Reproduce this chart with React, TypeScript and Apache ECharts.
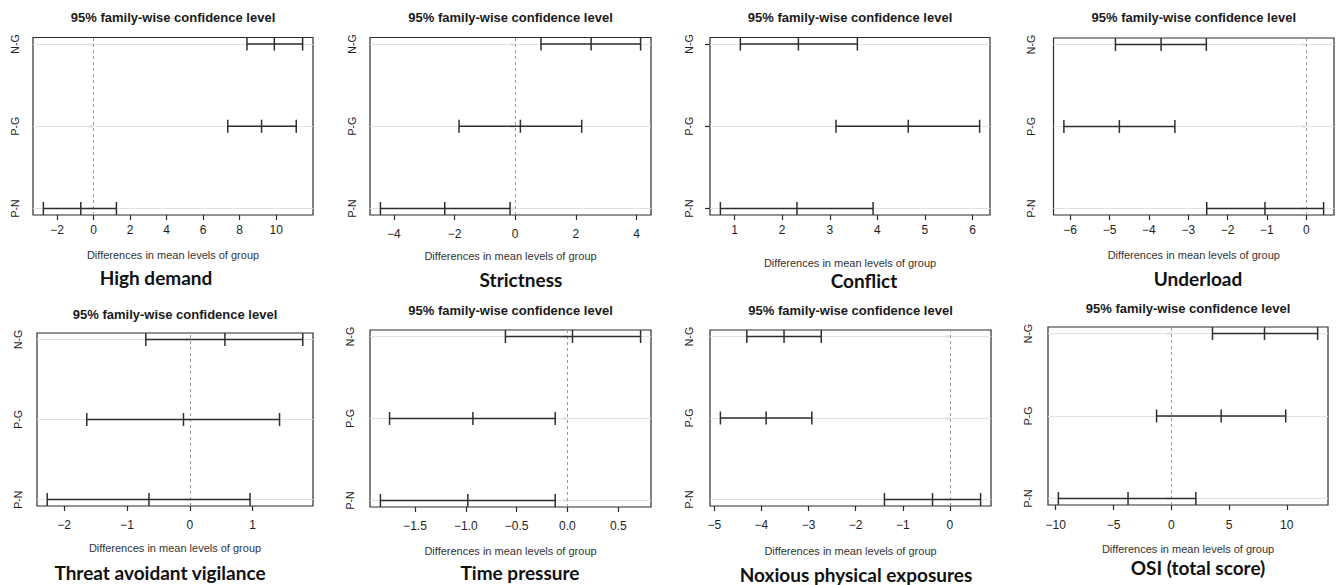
import React, { useEffect, useRef } from "react";
import * as echarts from "echarts";

// Comparisons, top to bottom
const categories = ["N-G", "P-G", "P-N"];

const panelNames = [
  "High demand",
  "Strictness",
  "Conflict",
  "Underload",
  "Threat avoidant vigilance",
  "Time pressure",
  "Noxious physical exposures",
  "OSI (total score)",
];

const panelTitle = "95% family-wise confidence level";
const xAxisTitle = "Differences in mean levels of group";

// [lwr, diff, upr] for N-G, P-G, P-N
const highDemand = [[8.4, 9.9, 11.45], [7.35, 9.2, 11.1], [-2.75, -0.7, 1.25]];
const strictness = [[0.85, 2.5, 4.13], [-1.85, 0.17, 2.19], [-4.44, -2.32, -0.17]];
const conflict = [[1.12, 2.34, 3.58], [3.13, 4.65, 6.15], [0.7, 2.31, 3.91]];
const underload = [[-4.85, -3.69, -2.54], [-6.16, -4.75, -3.34], [-2.53, -1.05, 0.44]];
const threatAvoidant = [[-0.7, 0.56, 1.8], [-1.64, -0.1, 1.43], [-2.27, -0.65, 0.96]];
const timePressure = [[-0.61, 0.05, 0.72], [-1.75, -0.93, -0.12], [-1.84, -0.98, -0.12]];
const noxious = [[-4.31, -3.52, -2.73], [-4.87, -3.9, -2.93], [-1.39, -0.37, 0.65]];
const osi = [[3.57, 8.07, 12.67], [-1.27, 4.32, 9.91], [-9.77, -3.74, 2.13]];

// x tick labels per panel
const highDemandTicks = [-2, 0, 2, 4, 6, 8, 10];
const strictnessTicks = [-4, -2, 0, 2, 4];
const conflictTicks = [1, 2, 3, 4, 5, 6];
const underloadTicks = [-6, -5, -4, -3, -2, -1, 0];
const threatTicks = [-2, -1, 0, 1];
const timeTicks = [-1.5, -1.0, -0.5, 0.0, 0.5];
const noxiousTicks = [-5, -4, -3, -2, -1, 0];
const osiTicks = [-10, -5, 0, 5, 10];

const panelData = [highDemand, strictness, conflict, underload, threatAvoidant, timePressure, noxious, osi];
const panelTicks = [highDemandTicks, strictnessTicks, conflictTicks, underloadTicks, threatTicks, timeTicks, noxiousTicks, osiTicks];

// layout (pixels)
const layouts = [
  { l: 33, r: 313, t: 37.5, b: 215, titleY: 17, lab: 9, ylab: 13, nameGap: 34, subX: 156, subY: 277 },
  { l: 370, r: 651, t: 37.5, b: 215, titleY: 17, lab: 13, ylab: 13, nameGap: 35, subX: 521, subY: 279 },
  { l: 710, r: 990, t: 37.5, b: 215, titleY: 17, lab: 9, ylab: 16, nameGap: 42, subX: 864, subY: 280 },
  { l: 1053.5, r: 1334, t: 38, b: 215, titleY: 17, lab: 9, ylab: 17, nameGap: 34, subX: 1198, subY: 278 },
  { l: 37, r: 313, t: 333, b: 506, titleY: 314, lab: 13, ylab: 14, nameGap: 36.5, subX: 160, subY: 572 },
  { l: 370, r: 651, t: 330, b: 507, titleY: 310, lab: 13, ylab: 15, nameGap: 38, subX: 520, subY: 572 },
  { l: 710, r: 991, t: 330, b: 506, titleY: 310, lab: 13, ylab: 16, nameGap: 39, subX: 856, subY: 574 },
  { l: 1048, r: 1328, t: 327, b: 505, titleY: 308, lab: 14, ylab: 15, nameGap: 38, subX: 1198, subY: 567 },
];

const AX_FONT = "'Liberation Sans', Arial, Helvetica, sans-serif";
const SUB_FONT = "Lato, 'Open Sans', sans-serif";

function fmtTick(v: number, decimals: number) {
  const s = Math.abs(v).toFixed(decimals);
  return (v < -1e-9 ? "\u2212" : "") + s;
}

function buildOption() {
  const grid: any[] = [];
  const xAxis: any[] = [];
  const yAxis: any[] = [];
  const series: any[] = [];
  const graphic: any[] = [];

  panelData.forEach((ci, i) => {
    const L = layouts[i];
    const ticks = panelTicks[i];
    const lows = ci.map((c) => c[0]);
    const highs = ci.map((c) => c[2]);
    const dMin = Math.min(...lows);
    const dMax = Math.max(...highs);
    const pad = (dMax - dMin) * 0.04;
    const xMin = dMin - pad;
    const xMax = dMax + pad;
    const decimals = ticks.some((t) => !Number.isInteger(t)) ? 1 : 0;

    grid.push({
      left: L.l,
      top: L.t,
      width: L.r - L.l,
      height: L.b - L.t,
      show: true,
      borderColor: "#2b2b2b",
      borderWidth: 1.2,
      backgroundColor: "transparent",
      containLabel: false,
    });

    xAxis.push({
      type: "value",
      gridIndex: i,
      min: xMin,
      max: xMax,
      axisLine: { show: false },
      splitLine: { show: false },
      axisTick: { show: true, length: 5, customValues: ticks, lineStyle: { color: "#2b2b2b", width: 1.2 } },
      axisLabel: {
        customValues: ticks,
        margin: L.lab,
        fontSize: 12,
        fontFamily: AX_FONT,
        color: "#1e1e1e",
        formatter: (v: number) => fmtTick(v, decimals),
      },
      name: xAxisTitle,
      nameLocation: "middle",
      nameGap: L.nameGap,
      nameTextStyle: { fontSize: 11, fontFamily: AX_FONT, color: "#333" },
    });

    yAxis.push({
      type: "value",
      gridIndex: i,
      min: 0.92,
      max: 3.08,
      axisLine: { show: false },
      splitLine: { show: false },
      axisTick: { show: true, length: 5, customValues: [1, 2, 3], lineStyle: { color: "#2b2b2b", width: 1.2 } },
      axisLabel: {
        customValues: [1, 2, 3],
        rotate: 90,
        margin: L.ylab,
        fontSize: 10.5,
        fontFamily: AX_FONT,
        color: "#1e1e1e",
        formatter: (v: number) => categories[3 - Math.round(v)],
      },
    });

    const refLines: any[] = [1, 2, 3].map((y) => ({
      yAxis: y,
      lineStyle: { color: "#e2e2e2", width: 1, type: "solid" },
    }));
    if (xMin < 0 && xMax > 0) {
      refLines.push({ xAxis: 0, lineStyle: { color: "#9a9a9a", width: 1, type: [3, 3] } });
    }

    series.push({
      type: "line",
      xAxisIndex: i,
      yAxisIndex: i,
      data: [],
      z: 1,
      silent: true,
      markLine: {
        silent: true,
        z: 1,
        symbol: "none",
        label: { show: false },
        animation: false,
        data: refLines,
      },
    });

    series.push({
      type: "custom",
      xAxisIndex: i,
      yAxisIndex: i,
      z: 10,
      silent: true,
      data: ci.map((c, k) => [c[0], c[1], c[2], 3 - k]),
      encode: { x: [0, 1, 2], y: 3 },
      renderItem: (params: any, api: any) => {
        const y = api.value(3);
        const pL = api.coord([api.value(0), y]);
        const pM = api.coord([api.value(1), y]);
        const pU = api.coord([api.value(2), y]);
        const h = 6.5;
        const st = { stroke: "#2e2e2e", lineWidth: 1.5 };
        const v = (p: number[]) => ({
          type: "line",
          shape: { x1: p[0], y1: p[1] - h, x2: p[0], y2: p[1] + h },
          style: st,
        });
        return {
          type: "group",
          children: [
            { type: "line", shape: { x1: pL[0], y1: pL[1], x2: pU[0], y2: pU[1] }, style: st },
            v(pL),
            v(pM),
            v(pU),
          ],
        };
      },
    });

    graphic.push({
      type: "text",
      x: (L.l + L.r) / 2,
      y: L.titleY,
      style: {
        text: panelTitle,
        align: "center",
        verticalAlign: "middle",
        fontSize: 13,
        fontWeight: "bold",
        fontFamily: AX_FONT,
        fill: "#1a1a1a",
      },
    });

    graphic.push({
      type: "text",
      x: L.subX,
      y: L.subY,
      style: {
        text: panelNames[i],
        align: "center",
        verticalAlign: "middle",
        fontSize: 19,
        fontWeight: "bold",
        fontFamily: SUB_FONT,
        fill: "#111",
      },
    });
  });

  return {
    animation: false,
    backgroundColor: "#ffffff",
    grid,
    xAxis,
    yAxis,
    series,
    graphic,
  };
}

export default function App() {
  const ref = useRef<HTMLDivElement>(null);
  useEffect(() => {
    if (!ref.current) return;
    const chart = echarts.init(ref.current, undefined, { renderer: "svg" });
    chart.setOption(buildOption() as any);
    return () => chart.dispose();
  }, []);
  return (
    <div
      ref={ref}
      style={{ position: "fixed", left: 0, top: 0, width: 1336, height: 585, background: "#fff" }}
    />
  );
}
